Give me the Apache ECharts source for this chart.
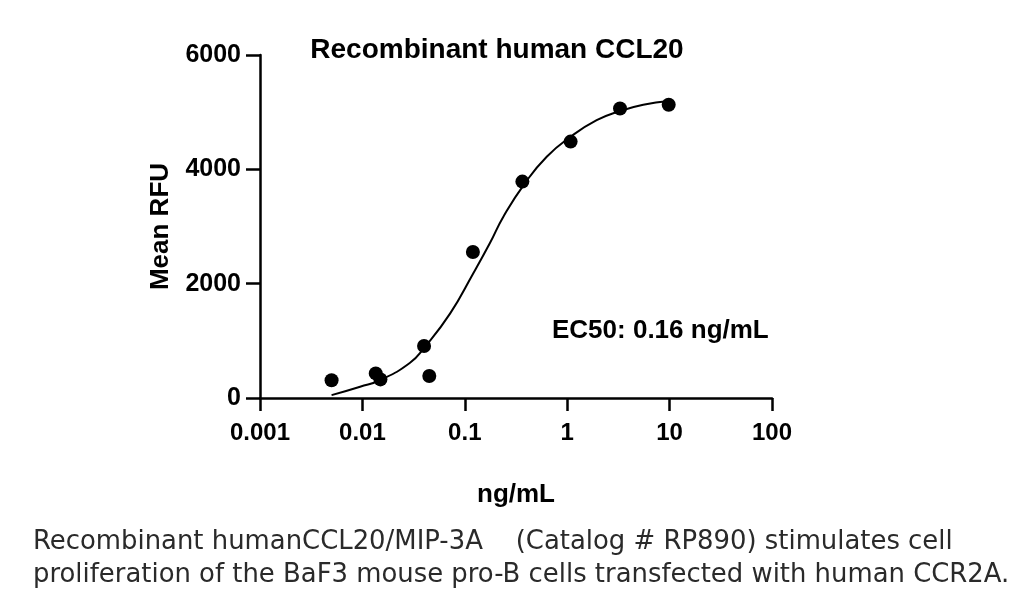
<!DOCTYPE html>
<html>
<head>
<meta charset="utf-8">
<script src="https://cdn.jsdelivr.net/npm/echarts@6/dist/echarts.min.js"></script>
<style>
  html, body { margin: 0; padding: 0; background: #fff; }
  #container { width: 1024px; height: 615px; }
</style>
</head>
<body>
<div id="container"></div>
<script>
// measured points (ng/mL, Mean RFU)
var doseX = [0.005, 0.0135, 0.015, 0.04, 0.045, 0.12, 0.365, 1.08, 3.28, 9.8];
var rfuY = [310, 430, 325, 910, 385, 2555, 3785, 4485, 5065, 5130];
// fitted curve
var curveX = [0.005, 0.0095, 0.015, 0.029, 0.04, 0.072, 0.12, 0.176, 0.238, 0.387, 0.631, 1.06, 1.94, 3.28, 5.53, 9.8];
var curveY = [50, 198, 315, 612, 875, 1480, 2170, 2711, 3171, 3760, 4220, 4560, 4860, 5020, 5130, 5194];
var xTickLabels = ['0.001', '0.01', '0.1', '1', '10', '100'];
var yTicks = [0, 2000, 4000, 6000];

var titleText = 'Recombinant human CCL20';
var ec50Text = 'EC50: 0.16 ng/mL';
var captionLines = [
    'Recombinant humanCCL20/MIP-3A    (Catalog # RP890) stimulates cell',
    'proliferation of the BaF3 mouse pro-B cells transfected with human CCR2A.'
];

var dom = document.getElementById('container');
var myChart = echarts.init(dom, null, { renderer: 'canvas' });

var boldFont = 'Liberation Sans, Arial, sans-serif';
var captionFont = '25.9px DejaVu Sans, sans-serif';

var option = {
    animation: false,
    backgroundColor: '#fff',
    grid: { left: 260, right: 252, top: 55, bottom: 217, outerBoundsMode: 'none' },
    xAxis: {
        type: 'log',
        logBase: 10,
        min: 0.001,
        max: 100,
        name: 'ng/mL',
        nameLocation: 'middle',
        nameGap: 84,
        nameTextStyle: { color: '#000', fontFamily: boldFont, fontWeight: 'bold', fontSize: 26 },
        axisLine: { show: true, lineStyle: { color: '#000', width: 2.5 } },
        axisTick: { show: true, length: 13, lineStyle: { color: '#000', width: 2.5 } },
        minorTick: { show: false },
        splitLine: { show: false },
        axisLabel: {
            color: '#000', fontFamily: boldFont, fontWeight: 'bold', fontSize: 24, margin: 23,
            formatter: function (v) {
                return xTickLabels[Math.round(Math.log10(v)) + 3];
            }
        }
    },
    yAxis: {
        type: 'value',
        min: yTicks[0],
        max: yTicks[yTicks.length - 1],
        interval: 2000,
        name: 'Mean RFU',
        nameLocation: 'middle',
        nameGap: 86,
        nameTextStyle: { color: '#000', fontFamily: boldFont, fontWeight: 'bold', fontSize: 26 },
        axisLine: { show: true, lineStyle: { color: '#000', width: 2.5 } },
        axisTick: { show: true, length: 14, lineStyle: { color: '#000', width: 2.5 } },
        splitLine: { show: false },
        axisLabel: {
            color: '#000', fontFamily: boldFont, fontWeight: 'bold', fontSize: 25, margin: 19,
            formatter: function (v) { return String(v); }
        }
    },
    graphic: [
        {
            type: 'text', x: 497, y: 50,
            style: { text: titleText, fill: '#000', font: 'bold 28px ' + boldFont, textAlign: 'center', textVerticalAlign: 'middle' }
        },
        {
            type: 'text', x: 552, y: 331,
            style: { text: ec50Text, fill: '#000', font: 'bold 26px ' + boldFont, textAlign: 'left', textVerticalAlign: 'middle' }
        },
        {
            type: 'text', x: 33, y: 542,
            style: { text: captionLines[0], fill: '#2a2a2a', font: captionFont, textAlign: 'left', textVerticalAlign: 'middle' }
        },
        {
            type: 'text', x: 33, y: 575,
            style: { text: captionLines[1], fill: '#2a2a2a', font: captionFont, textAlign: 'left', textVerticalAlign: 'middle' }
        }
    ],
    series: [
        {
            type: 'line',
            data: curveX.map(function (x, i) { return [x, curveY[i]]; }),
            smooth: 0.5,
            showSymbol: false,
            lineStyle: { color: '#000', width: 2 },
            z: 2
        },
        {
            type: 'scatter',
            data: doseX.map(function (x, i) { return [x, rfuY[i]]; }),
            symbol: 'circle',
            symbolSize: 14,
            itemStyle: { color: '#000', opacity: 1 },
            z: 3
        }
    ]
};
myChart.setOption(option, true);
</script>
</body>
</html>
